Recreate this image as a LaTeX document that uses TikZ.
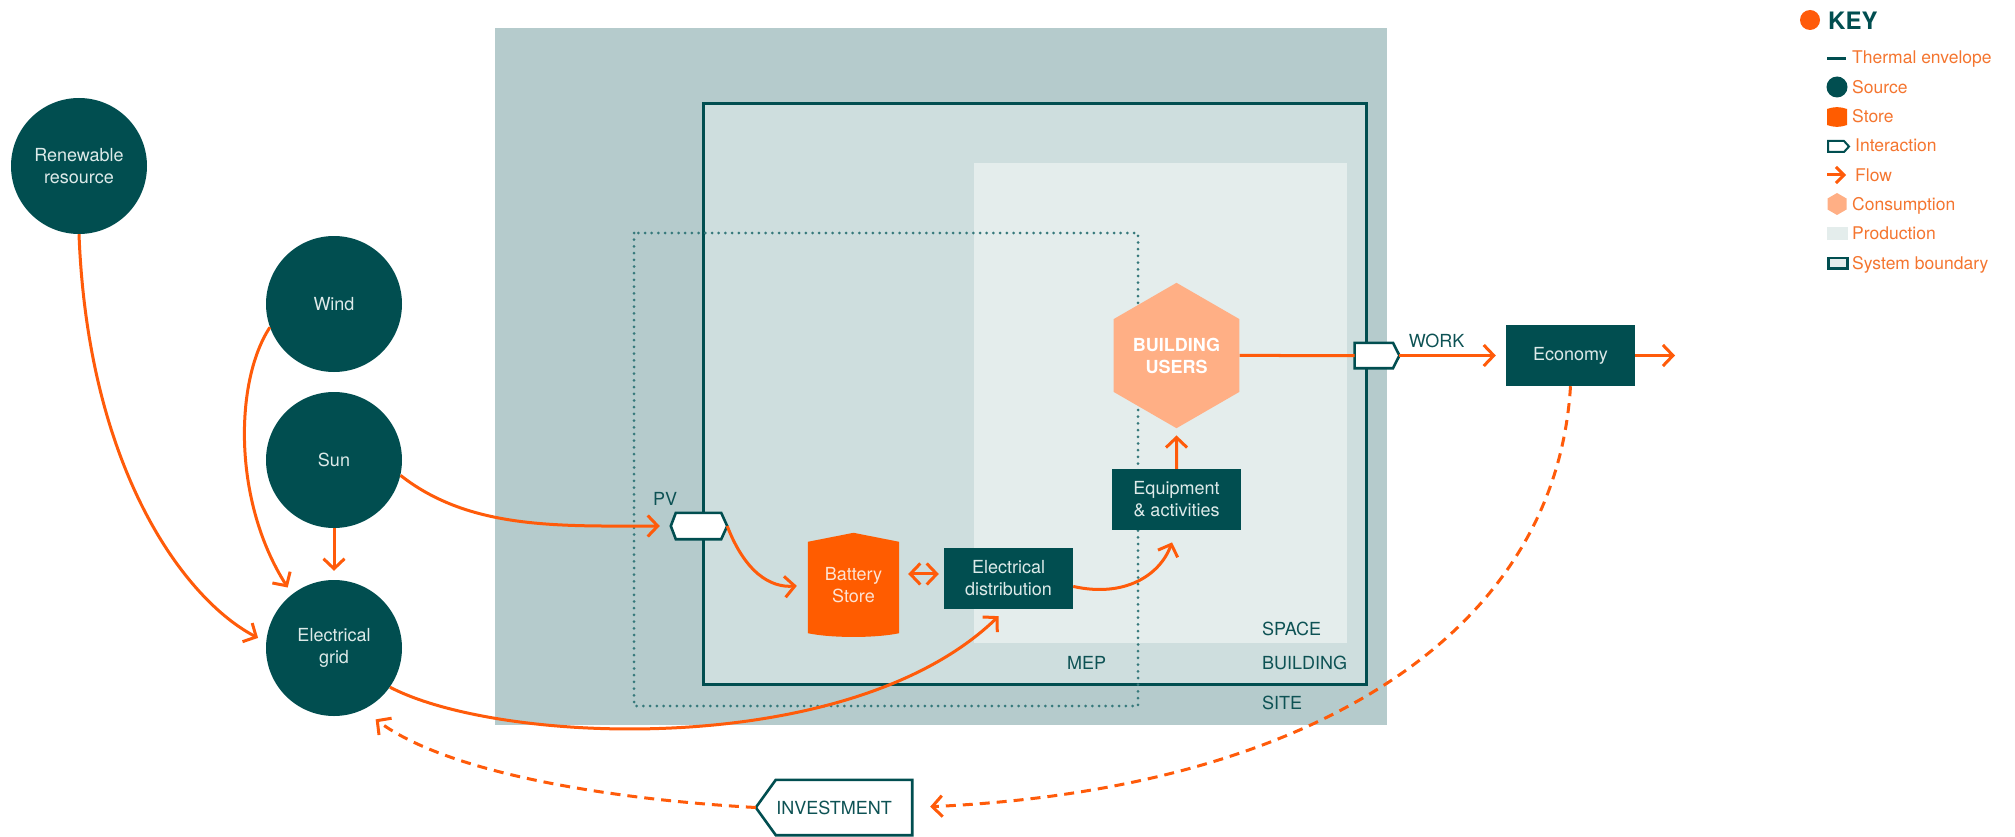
\documentclass[tikz,border=0pt]{standalone}
\usepackage{fontspec}
\setmainfont{TeX Gyre Heros}
\usetikzlibrary{arrows.meta,calc,shapes.geometric}
\pgfdeclarelayer{back}
\pgfsetlayers{back,main}

\definecolor{deepteal}{HTML}{014E50}
\definecolor{labelteal}{HTML}{0D5254}
\definecolor{paletext}{HTML}{DDEAE9}
\definecolor{flowor}{HTML}{FF5B0A}
\definecolor{keyor}{HTML}{F4752F}
\definecolor{sitefill}{HTML}{B5CBCC}
\definecolor{buildfill}{HTML}{CEDEDE}
\definecolor{spacefill}{HTML}{E4EDEC}
\definecolor{mepdot}{HTML}{36797B}
\definecolor{peach}{HTML}{FFAF85}
\definecolor{storeor}{HTML}{FF5C00}
\definecolor{storetext}{HTML}{FDE3D3}

\newcommand{\diagfont}{\fontsize{18}{22}\selectfont}
\newcommand{\keyfont}{\fontsize{17.5}{21}\selectfont}

\begin{document}
\begin{tikzpicture}[x=1pt,y=-1pt,
  source/.style={circle, fill=deepteal, minimum size=136pt, inner sep=0pt,
    text=paletext, align=center, font=\diagfont},
  darkbox/.style={rectangle, fill=deepteal, minimum width=129pt, minimum height=61pt,
    inner sep=0pt, text=paletext, align=center, font=\diagfont},
  iface/.style={draw=deepteal, fill=white, line width=2.6pt, line join=miter},
  zonetext/.style={text=labelteal, font=\diagfont, inner sep=0pt},
  keytext/.style={text=keyor, font=\keyfont, inner sep=0pt, anchor=base west},
  flowline/.style={draw=flowor, line width=3pt},
  flow/.style={flowline, -{Straight Barb[length=10pt,width=21pt]}},
  flowboth/.style={flowline, {Straight Barb[length=10pt,width=21pt]}-{Straight Barb[length=10pt,width=21pt]}},
  dashflow/.style={flow, dash pattern=on 10pt off 7pt},
]
\useasboundingbox (0,0) rectangle (2015,837);

% ---- nested system boundaries ----
\begin{pgfonlayer}{back}
  \fill[sitefill] (495,28) rectangle (1387,725);
  \filldraw[fill=buildfill, draw=deepteal, line width=3pt] (703,104) rectangle (1366,684);
  \fill[spacefill] (974,163) rectangle (1347,643);
  \draw[mepdot, line width=3pt, line cap=round, dash pattern=on 0pt off 6.7pt]
    (634,233) rectangle (1138,706);
\end{pgfonlayer}

\node[zonetext, anchor=west] (lspace) at (1262,629) {SPACE};
\node[zonetext, anchor=west] (lbuild) at (1262,663) {BUILDING};
\node[zonetext, anchor=west] (lsite) at (1262,703) {SITE};
\node[zonetext, anchor=west] (lmep) at (1067,663) {MEP};

% ---- sources ----
\node[source] (ren) at (79,166) {Renewable\\resource};
\node[source] (wind) at (334,304) {Wind};
\node[source] (sun) at (334,460) {Sun};
\node[source] (grid) at (334,648) {Electrical\\grid};

% ---- interactions ----
\node[minimum width=56pt, minimum height=26pt, inner sep=0pt] (pv) at (699,526) {};
\node[zonetext] (pvlab) at (665,499) {PV};
\node[minimum width=44.5pt, minimum height=25pt, inner sep=0pt] (work) at (1377,355.5) {};
\node[zonetext] (worklab) at (1436.6,341) {WORK};
\node[zonetext, minimum width=156pt, minimum height=55pt] (inv) at (834,807.5) {INVESTMENT};

% ---- store, boxes, consumption ----
\node[text=storetext, font=\diagfont, align=center, minimum width=91pt,
  minimum height=104pt, inner sep=0pt] (bat) at (853.5,585) {Battery\\Store};
\node[darkbox] (elec) at (1008.5,578.5) {Electrical\\distribution};
\node[darkbox] (equip) at (1176.5,499.5) {Equipment\\\& activities};
\node[darkbox] (econ) at (1570.5,355.5) {Economy};
\node[regular polygon, regular polygon sides=6, shape border rotate=30,
  minimum size=145.4pt, fill=peach, inner sep=0pt, text=white,
  font=\bfseries\diagfont, align=center] (users) at (1176.5,355.5) {BUILDING\\USERS};

\begin{pgfonlayer}{back}
  \draw[iface] (pv.west) -- ($(pv.north west)+(5,0)$) -- ($(pv.north east)+(-6,0)$)
    -- (pv.east) -- ($(pv.south east)+(-6,0)$) -- ($(pv.south west)+(5,0)$) -- cycle;
  \draw[iface] (work.north west) -- ($(work.north east)+(-6.5,0)$) -- (work.east)
    -- ($(work.south east)+(-6.5,0)$) -- (work.south west) -- cycle;
  \draw[iface] (inv.west) -- ($(inv.north west)+(20,0)$) -- (inv.north east)
    -- (inv.south east) -- ($(inv.south west)+(20,0)$) -- cycle;
  \fill[storeor] ($(bat.north west)+(0,9)$) -- (bat.north) -- ($(bat.north east)+(0,9)$)
    -- ($(bat.south east)+(0,-4)$) .. controls ($(bat.south)+(22,1)$) and ($(bat.south)+(-22,1)$)
    .. ($(bat.south west)+(0,-4)$) -- cycle;
\end{pgfonlayer}

% ---- flows ----
\draw[flow, shorten >=9pt] (ren.south) .. controls (88,470) and (185,600) .. (grid.175);
\draw[flow, shorten >=8pt] (wind.200) .. controls (235,380) and (232,500) .. (grid.128);
\draw[flow, shorten >=9pt] (sun) -- (grid);
\draw[flow, shorten >=11pt] (sun.-13) .. controls (470,530) and (560,526) .. (pv.west);
\draw[flow, shorten >=11pt] (pv.east) .. controls (745,572) and (770,588) .. (bat.west);
\draw[flowboth, shorten <=9pt, shorten >=5pt] (bat.east |- elec.176) -- (elec.176);
\draw[flow, shorten >=10pt] (grid.-35) .. controls (500,745) and (850,760) .. (elec.265);
\draw[flow, shorten >=13pt] (elec.-7) .. controls (1125,598) and (1160,575) .. (equip.south);
\draw[flow, shorten >=7pt] (equip) -- (users);
\draw[flowline] (users) -- (work);
\draw[flow, shorten >=10pt] (work.east) -- (econ.west);
\coordinate (onward) at (1675,355.5);
\draw[flow] (econ.east) -- (onward);
\draw[dashflow, shorten >=18pt] (econ.south) .. controls (1555,640) and (1300,790) .. (inv.east);
\draw[dashflow, shorten >=16pt] (inv.west) .. controls (620,800) and (450,775) .. (grid.-65);

% ---- key ----
\fill[flowor] (1810,20) circle (10);
\node[anchor=base west, inner sep=0pt, text=deepteal,
  font=\bfseries\fontsize{24}{28}\selectfont] (keytitle) at (1828,30) {KEY};

\draw[deepteal, line width=3pt] (1827,59) -- (1846,59);
\node[keytext] (k1) at (1852,64) {Thermal envelope};
\fill[deepteal] (1837,87) circle (10.5);
\node[keytext] (k2) at (1852,93.5) {Source};
\fill[storeor] (1827,109) .. controls (1834,106.5) and (1840,106.5) .. (1847,109)
  -- (1847,125) .. controls (1840,127.5) and (1834,127.5) .. (1827,125) -- cycle;
\node[keytext] (k3) at (1852,123) {Store};
\draw[iface, line width=2pt] (1828,141) -- (1844,141) -- (1849,146.5) -- (1844,152) -- (1828,152) -- cycle;
\node[keytext] (k4) at (1855,152) {Interaction};
\draw[flowline, -{Straight Barb[length=8pt,width=16pt]}] (1827,175) -- (1846,175);
\node[keytext] (k5) at (1855,181.5) {Flow};
\fill[peach] (1837,193) -- (1846.5,198.5) -- (1846.5,209.5) -- (1837,215) -- (1827.5,209.5) -- (1827.5,198.5) -- cycle;
\node[keytext] (k6) at (1852,211) {Consumption};
\fill[spacefill] (1827,227) rectangle (1848,240);
\node[keytext] (k7) at (1852,240) {Production};
\draw[deepteal, fill=spacefill, line width=2.5pt] (1828.5,258) rectangle (1847.5,268.5);
\node[keytext] (k8) at (1852,269) {System boundary};
\end{tikzpicture}
\end{document}
